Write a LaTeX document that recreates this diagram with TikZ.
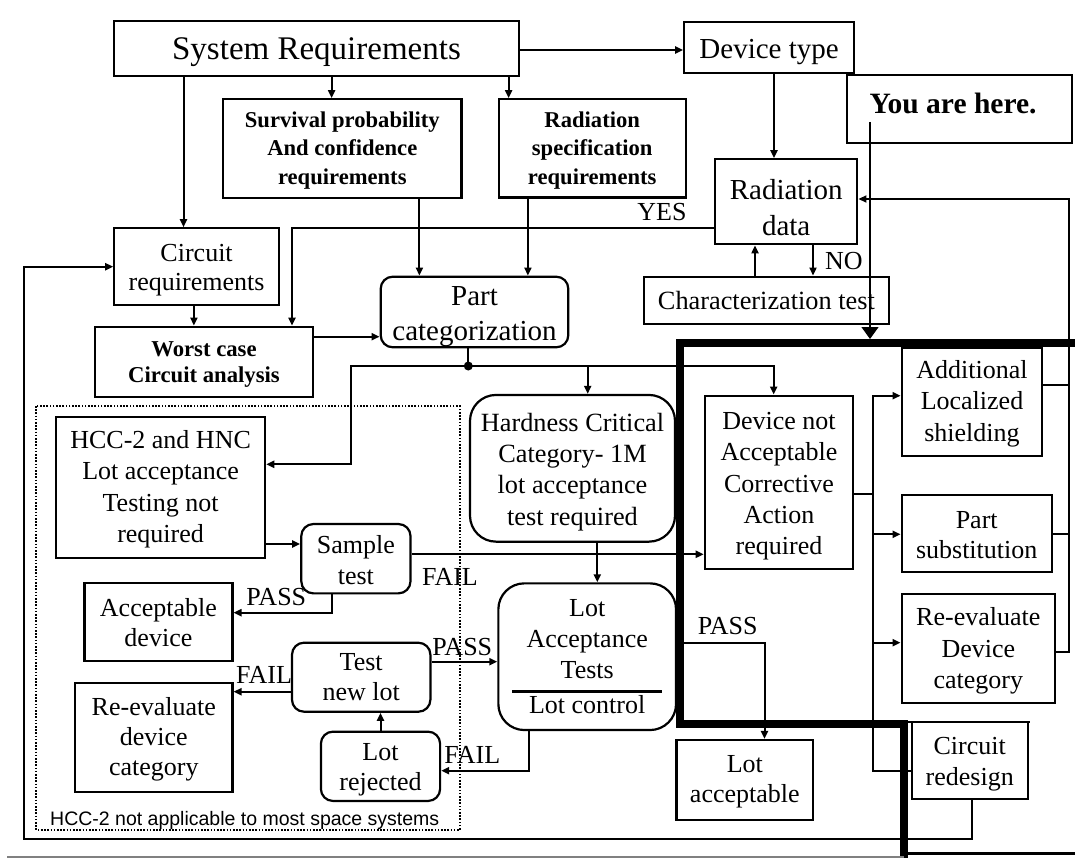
\documentclass[tikz,border=0pt]{standalone}
\usepackage{fontspec}
\setmainfont{Liberation Serif}
\newfontfamily\notefont{Liberation Sans}
\usetikzlibrary{arrows.meta}
\newcommand\strt[1]{\rule{0pt}{#1pt}}
\begin{document}
\begin{tikzpicture}[x=1pt,y=-1pt,
 box/.style={draw, line width=2.2pt, inner sep=0pt, align=center},
 rbox/.style={box, rounded corners=12pt},
 rbig/.style={box, rounded corners=26pt},
 th/.style={execute at begin node={\rule{0pt}{#1}}},
 ln/.style={line width=2pt},
 arr/.style={ln, -{Triangle[length=8pt,width=7pt]}},
 lbl/.style={inner sep=0pt, font=\fontsize{26}{30}\selectfont},
 bd/.style={font=\bfseries\fontsize{22.6}{28.5}\selectfont},
]
\useasboundingbox (0,0) rectangle (1075,858);
\fill[white] (0,0) rectangle (1075,858);

% boxes
\node[box, th=29pt, minimum width=405.7pt, minimum height=55.3pt, font=\fontsize{33}{38}\selectfont] (sysreq) at (316.5,48.4) {System Requirements};
\node[box, th=27.9pt, minimum width=169.6pt, minimum height=50.5pt, font=\fontsize{29}{34}\selectfont] (devtype) at (769.1,47.5) {Device type};
\node[box, bd, minimum width=238.3pt, minimum height=98.4pt] (survival) at (342.3,148.5) {\strt{19.5}Survival probability\\And confidence\\requirements};
\node[box, bd, minimum width=187.1pt, minimum height=98.2pt] (radspec) at (592.2,148.4) {\strt{19.5}Radiation\\specification\\requirements};
\node[box, minimum width=142.3pt, minimum height=85pt, font=\fontsize{29}{35.8}\selectfont] (raddata) at (786.2,201.8) {\strt{31.4}Radiation\\data};
\node[box, text depth=12pt, minimum width=225.2pt, minimum height=68.3pt, font=\bfseries\fontsize{29.5}{35}\selectfont] (youhere) at (959.6,109.2) {You are here.\hspace*{13pt}};
\node[box, minimum width=164.6pt, minimum height=76.7pt, font=\fontsize{26}{29}\selectfont] (circreq) at (196.6,266.7) {\strt{24.6}Circuit\\requirements};
\node[rbox, minimum width=187.6pt, minimum height=70.6pt, font=\fontsize{29}{35}\selectfont] (partcat) at (474.5,312) {\strt{27.3}Part\\categorization};
\node[box, th=19.4pt, minimum width=244.7pt, minimum height=47.3pt, font=\fontsize{26.3}{30}\selectfont] (chartest) at (766.4,300.3) {Characterization test};
\node[box, minimum width=217.3pt, minimum height=70pt, font=\bfseries\fontsize{22.7}{26}\selectfont] (worst) at (204,361.7) {\strt{20.9}Worst case\\Circuit analysis};
\node[box, minimum width=209.1pt, minimum height=141pt, font=\fontsize{26}{31.5}\selectfont] (hcc) at (160.6,487.2) {\strt{22.2}HCC-2 and HNC\\Lot acceptance\\Testing not\\required};
\node[rbig, minimum width=205pt, minimum height=146.7pt, font=\fontsize{26.3}{31.1}\selectfont] (hardness) at (572.5,468.3) {\strt{25.7}Hardness Critical\\Category- 1M\\lot acceptance\\test required};
\node[box, minimum width=148.4pt, minimum height=173.3pt, font=\fontsize{26}{31.4}\selectfont] (devnot) at (779,482.3) {\strt{25.3}Device not\\Acceptable\\Corrective\\Action\\required};
\node[box, minimum width=140.6pt, minimum height=108.2pt, font=\fontsize{26}{31.7}\selectfont] (addl) at (972,401.6) {\strt{22.4}Additional\\Localized\\shielding};
\node[box, minimum width=150pt, minimum height=76.7pt, font=\fontsize{26}{30}\selectfont] (partsub) at (976.7,533.3) {\strt{20}Part\\substitution};
\node[box, minimum width=153.3pt, minimum height=108.7pt, font=\fontsize{26}{31.2}\selectfont] (reevalR) at (978.3,648.3) {\strt{23.3}Re-evaluate\\Device\\category};
\node[rbox, minimum width=109.2pt, minimum height=69.3pt, font=\fontsize{26}{31.7}\selectfont] (sample) at (355.9,558.7) {\strt{20.9}Sample\\test};
\node[box, minimum width=148pt, minimum height=77.7pt, font=\fontsize{26}{30}\selectfont] (accdev) at (158.4,622.2) {\strt{19}Acceptable\\device};
\node[rbig, minimum width=177.7pt, minimum height=146.7pt, font=\fontsize{26}{31}\selectfont] (lat) at (587.2,656.7) {Lot\\Acceptance\\Tests\\[-17pt]\rule{150pt}{3pt}\\[-10pt]Lot control};
\node[rbox, minimum width=138.4pt, minimum height=69pt, font=\fontsize{26}{30}\selectfont] (testnew) at (361.2,677.2) {\strt{17}Test\\new lot};
\node[box, minimum width=157.3pt, minimum height=109.6pt, font=\fontsize{26}{30}\selectfont] (reevalL) at (153.8,737.5) {\strt{20.6}Re-evaluate\\device\\category};
\node[rbox, minimum width=119.2pt, minimum height=69.3pt, font=\fontsize{26}{30}\selectfont] (lotrej) at (380.5,766.3) {\strt{23}Lot\\rejected};
\node[box, minimum width=136.5pt, minimum height=80pt, font=\fontsize{26}{30}\selectfont] (lotacc) at (744.8,780) {\strt{20}Lot\\acceptable};
\node[box, minimum width=116pt, minimum height=77pt, font=\fontsize{26}{31}\selectfont] (circred) at (969.7,760.8) {\strt{23}Circuit\\redesign};

% labels
\node[lbl, anchor=base east] (lyes) at (686.7,220.7) {YES};
\node[lbl, anchor=base west] (lno) at (825,270) {NO};
\node[lbl, anchor=base west] (lfail1) at (421.8,585) {FAIL};
\node[lbl, anchor=base west] (lpass1) at (246.2,605) {PASS};
\node[lbl, anchor=base west] (lpass2) at (432.2,655) {PASS};
\node[lbl, anchor=base west] (lfail2) at (235.9,683.3) {FAIL};
\node[lbl, anchor=base west] (lfail3) at (444.2,763.3) {FAIL};
\node[lbl, anchor=base west] (lpass3) at (697.6,634.3) {PASS};
\node[inner sep=0pt, anchor=base west, font=\notefont\fontsize{19.5}{22}\selectfont] (note) at (50,825) {HCC-2 not applicable to most space systems};

% dotted region
\draw[line width=1.6pt, dash pattern=on 1.6pt off 1.6pt] (36.2,406) rectangle (459.7,830);

% connectors
\draw[arr] (sysreq.east |- 0,50) -- (devtype.west |- 0,50);
\draw[arr] (sysreq.south -| 331.6,0) -- (survival.north -| 331.6,0);
\draw[arr] (sysreq.south -| 508.6,0) -- (radspec.north -| 508.6,0);
\draw[arr] (sysreq.south -| 183.5,0) -- (circreq.north -| 183.5,0);
\draw[arr] (devtype.south -| 774,0) -- (raddata.north -| 774,0);
\draw[arr] (survival.south -| 419.4,0) -- (partcat.north -| 419.4,0);
\draw[arr] (radspec.south -| 527.9,0) -- (partcat.north -| 527.9,0);
\draw[arr] (raddata.west |- 0,228.3) -- (292,228.3) -- (worst.north -| 292,0);
\draw[arr] (circreq.south -| 193.9,0) -- (worst.north -| 193.9,0);
\draw[arr] (worst.east |- 0,336.7) -- (partcat.west |- 0,336.7);
\draw[arr] (chartest.north -| 755,0) -- (raddata.south -| 755,0);
\draw[arr] (raddata.south -| 813,0) -- (chartest.north -| 813,0);
\coordinate (jn) at (468.3,366);
\draw[ln] (partcat.south -| jn) -- (jn);
\fill (jn) circle[radius=4.5pt];
\draw[arr] (jn) -- (587.7,366) -- (hardness.north -| 587.7,0);
\draw[arr] (jn) -- (773.7,366) -- (devnot.north -| 773.7,0);
\draw[arr] (jn) -- (351.2,366) -- (351.2,464.3) -- (hcc.east |- 0,464.3);
\draw[arr] (hcc.east |- 0,544) -- (sample.west |- 0,544);
\draw[arr] (sample.east |- 0,554.3) -- (devnot.west |- 0,554.3);
\draw[arr] (sample.south -| 331.6,0) -- (331.6,612.7) -- (accdev.east |- 0,612.7);
\draw[arr] (hardness.south -| 597.3,0) -- (lat.north -| 597.3,0);
\draw[arr] (testnew.east |- 0,661.7) -- (lat.west |- 0,661.7);
\draw[arr] (testnew.west |- 0,691.7) -- (reevalL.east |- 0,691.7);
\draw[arr] (lotrej.north -| 380.5,0) -- (testnew.south -| 380.5,0);
\draw[arr] (lat.south -| 528.6,0) -- (528.6,770.7) -- (lotrej.east |- 0,770.7);
\draw[arr] (lat.east |- 0,642.7) -- (764.5,642.7) -- (lotacc.north -| 764.5,0);
\coordinate (dist) at (872.6,494.3);
\draw[ln] (devnot.east |- dist) -- (dist);
\draw[arr] (dist) |- (addl.west |- 0,395.7);
\draw[arr] (dist) |- (partsub.west |- 0,534.3);
\draw[arr] (dist) |- (reevalR.west |- 0,642.7);
\draw[ln] (dist) |- (circred.west |- 0,770.7);
\draw[ln] (addl.east |- 0,385) -- (1069.3,385);
\draw[ln] (partsub.east |- 0,534) -- (1069.3,534);
\draw[arr] (reevalR.east |- 0,651.7) -- (1069.3,651.7) -- (1069.3,199) -- (raddata.east |- 0,199);
\draw[arr] (circred.south -| 971.6,0) -- (971.6,839.3) -- (24.1,839.3) -- (24.1,266.7) -- (circreq.west |- 0,266.7);

% highlight frame
\draw[line width=8.3pt, line cap=butt, line join=miter] (1075,343.3) -- (680,343.3) -- (680,723.7) -- (904,723.7) -- (904,858);
\draw[line width=1.8pt] (904,722.3) -- (1030,722.3);
\draw[line width=2.5pt] (904,853.3) -- (1075,853.3);
\draw[gray, line width=2pt] (7,857) -- (904,857);

% pointer
\coordinate (ptrtop) at (870,122);
\coordinate (ptrend) at (870,339);
\draw[line width=1.2pt, -{Triangle[length=12pt,width=17pt]}] (ptrtop) -- (ptrend);
\end{tikzpicture}
\end{document}
